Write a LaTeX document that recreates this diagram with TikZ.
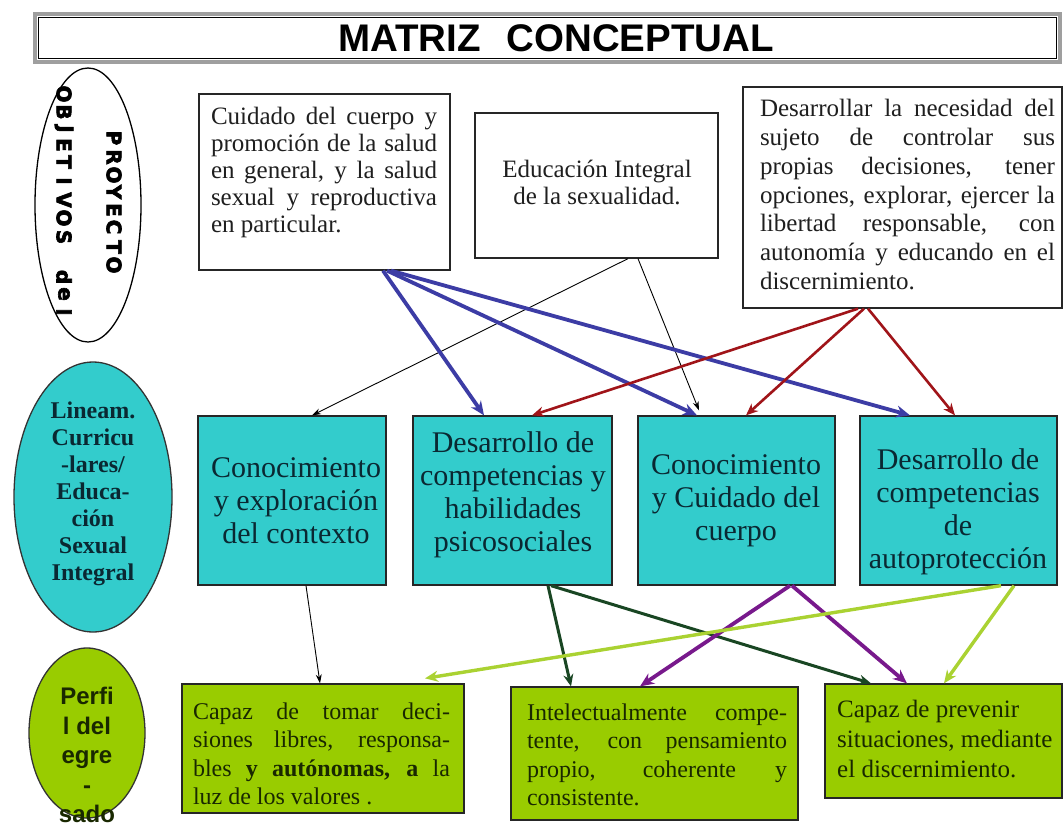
\documentclass[tikz,border=0pt]{standalone}
\usepackage{fontspec}
\setmainfont{Liberation Serif}
\newfontfamily\titlefont{Liberation Sans}
\newfontfamily\heavyfont{DejaVu Sans Bold}[FakeBold=3]
\usetikzlibrary{arrows.meta,shapes.geometric,calc}
\definecolor{cyanf}{RGB}{51,204,204}
\definecolor{greenf}{RGB}{153,204,0}
\definecolor{cyantext}{RGB}{10,40,50}
\definecolor{greentext}{RGB}{25,40,0}
\definecolor{arrowblue}{RGB}{60,60,165}
\definecolor{arrowred}{RGB}{160,20,25}
\definecolor{arrowdkgreen}{RGB}{25,70,35}
\definecolor{arrowpurple}{RGB}{120,25,140}
\definecolor{arrowlime}{RGB}{170,210,50}
\newcommand\justln[2]{\makebox[#1][s]{#2}}
\newcommand\leftln[2]{\makebox[#1][l]{#2}}
\begin{document}
\begin{tikzpicture}[x=1pt,y=-1pt,
  box/.style={draw=black!85, line width=1.3pt, inner sep=0pt},
  whitebox/.style={box, fill=white},
  cyanbox/.style={box, fill=cyanf},
  greenbox/.style={box, fill=greenf},
  toptext/.style={inner sep=0pt, align=left, text=black!88, font=\fontsize{25}{27}\selectfont},
  cyantxt/.style={inner sep=0pt, align=center, text=cyantext, font=\fontsize{30}{33}\selectfont},
  greentxt/.style={inner sep=0pt, align=left, text=greentext, font=\fontsize{24}{28.5}\selectfont},
  heavyletter/.style={inner sep=0pt, rotate=-90, font=\heavyfont\fontsize{20}{20}\selectfont},
  thinarrow/.style={draw=black, line width=0.9pt, -{Stealth[length=9pt,width=6pt]}},
  bluearrow/.style={draw=arrowblue, line width=3.8pt, -{Stealth[length=14pt,width=12pt]}},
  redarrow/.style={draw=arrowred, line width=2.6pt, -{Stealth[length=12pt,width=10pt]}},
  dkgreenarrow/.style={draw=arrowdkgreen, line width=3pt, -{Stealth[length=12pt,width=10pt]}},
  purplearrow/.style={draw=arrowpurple, line width=3.8pt, -{Stealth[length=14pt,width=12pt]}},
  limearrow/.style={draw=arrowlime, line width=3.4pt, -{Stealth[length=13pt,width=11pt]}}
]
\useasboundingbox (0,0) rectangle (1064,827);
\fill[white] (0,0) rectangle (1064,827);

% title
\node[draw=gray!75, line width=4pt, minimum width=1025pt, minimum height=48pt, inner sep=0pt] (titlebox) at (547.5,38) {};
\node[draw=black, line width=1pt, minimum width=1018pt, minimum height=41pt, inner sep=0pt] (titleinner) at (547.5,38) {};
\node[inner sep=0pt, font=\titlefont\bfseries\fontsize{38.5}{40}\selectfont] (title) at (556,38) {MATRIZ\hspace{26pt}CONCEPTUAL};

% left ellipses
\node[ellipse, draw=black, line width=1.3pt, fill=white, minimum width=106pt, minimum height=274pt, inner sep=0pt] (objetivos) at (88,205) {};
\foreach \ch/\yy in {O/94, B/112, J/129, E/145, T/162, I/181, V/200, O/218, S/237, d/277, e/294, l/312}
  \node[heavyletter] (obj\yy) at (64,\yy) {\ch};
\foreach \ch/\yy in {P/138, R/157, O/175, Y/192, E/210, C/227, T/247, O/265}
  \node[heavyletter] (proy\yy) at (114,\yy) {\ch};

\node[ellipse, draw=black!80, line width=1.3pt, fill=cyanf, minimum width=158pt, minimum height=270pt, inner sep=0pt] (lineam) at (93,497) {};
\node[inner sep=0pt, align=center, text=cyantext, font=\bfseries\fontsize{24}{27}\selectfont] (lineamtext) at (93,494) {Lineam.\\Curricu\\-lares/\\Educa-\\ción\\Sexual\\Integral};

\node[ellipse, draw=black!80, line width=1.3pt, fill=greenf, minimum width=116pt, minimum height=170pt, inner sep=0pt] (perfil) at (87,733) {};
\node[inner sep=0pt, align=center, text=greentext, font=\titlefont\bfseries\fontsize{24}{29.5}\selectfont] (perfiltext) at (87,755) {Perfi\\l del\\egre\\-\\sado};

% top boxes
\node[whitebox, minimum width=251pt, minimum height=176pt] (A) at (324.5,182) {};
\node[toptext] (Atext) at (324,172.5) {\justln{226pt}{Cuidado del cuerpo y}\\\justln{226pt}{promoción de la salud}\\\justln{226pt}{en general, y la salud}\\\justln{226pt}{sexual y reproductiva}\\\leftln{226pt}{en particular.}};

\node[whitebox, minimum width=243pt, minimum height=145pt] (B) at (596.5,185.5) {};
\node[toptext, align=center] (Btext) at (597,182.5) {Educación Integral\\de la sexualidad.};

\node[whitebox, minimum width=319pt, minimum height=221pt] (C) at (902.5,197.5) {};
\node[toptext, font=\fontsize{25}{28.7}\selectfont] (Ctext) at (907.5,194.5) {\justln{295pt}{Desarrollar la necesidad del}\\\justln{295pt}{sujeto de controlar sus}\\\justln{295pt}{propias decisiones, tener}\\\justln{295pt}{opciones, explorar, ejercer la}\\\justln{295pt}{libertad responsable, con}\\\justln{295pt}{autonomía y educando en el}\\\leftln{295pt}{discernimiento.}};

% middle cyan boxes
\node[cyanbox, minimum width=188pt, minimum height=169pt] (M1) at (292,500.5) {};
\node[cyantxt] (M1text) at (296,500.5) {Conocimiento\\y exploración\\del contexto};
\node[cyanbox, minimum width=199pt, minimum height=169pt] (M2) at (512.5,500.5) {};
\node[cyantxt] (M2text) at (513,494.5) {Desarrollo de\\competencias y\\habilidades\\psicosociales};
\node[cyanbox, minimum width=197pt, minimum height=169pt] (M3) at (736.5,500.5) {};
\node[cyantxt] (M3text) at (736,501) {Conocimiento\\y Cuidado del\\cuerpo};
\node[cyanbox, minimum width=197pt, minimum height=169pt] (M4) at (958.5,500.5) {};
\node[cyantxt] (M4text) at (958,512) {Desarrollo de\\competencias\\de\\autoprotección};

% bottom green boxes
\node[greenbox, minimum width=282pt, minimum height=129pt] (G1) at (323,748.5) {};
\node[greentxt] (G1text) at (321.5,754) {\justln{257pt}{Capaz de tomar deci-}\\\justln{257pt}{siones libres, responsa-}\\\justln{257pt}{bles \textbf{y autónomas, a} la}\\\leftln{257pt}{luz de los valores .}};
\node[greenbox, minimum width=287pt, minimum height=133pt] (G2) at (654.5,753.5) {};
\node[greentxt] (G2text) at (657,755) {\justln{260pt}{Intelectualmente compe-}\\\justln{260pt}{tente, con pensamiento}\\\justln{260pt}{propio, coherente y}\\\leftln{260pt}{consistente.}};
\node[greenbox, minimum width=237pt, minimum height=114pt] (G3) at (943.5,741) {};
\node[greentxt, anchor=west, font=\fontsize{25}{30}\selectfont] (G3text) at (837,738.5) {Capaz de prevenir\\situaciones, mediante\\el discernimiento.};

% connectors
\draw[thinarrow] ([xshift=31.5pt]B.south) -- ([xshift=20pt]M1.north);
\draw[thinarrow] ([xshift=41.5pt]B.south) -- ([xshift=-37.5pt,yshift=5pt]M3.north);
\draw[bluearrow] ([xshift=58.5pt]A.south) -- ([xshift=-28.5pt]M2.north);
\draw[bluearrow] ([xshift=62.5pt]A.south) -- ([xshift=-39.5pt]M3.north);
\draw[bluearrow] ([xshift=66.5pt]A.south) -- ([xshift=-48.5pt]M4.north);
\draw[redarrow] ([xshift=-44.5pt]C.south) -- ([xshift=19.5pt]M2.north);
\draw[redarrow] ([xshift=-38.5pt]C.south) -- ([xshift=9.5pt]M3.north);
\draw[redarrow] ([xshift=-34.5pt]C.south) -- ([xshift=-3.5pt]M4.north);
\draw[thinarrow] ([xshift=14pt]M1.south) -- ([xshift=-3pt]G1.north);
\draw[dkgreenarrow] ([xshift=35.5pt]M2.south) -- ([xshift=-83.5pt]G2.north);
\draw[dkgreenarrow] ([xshift=38.5pt]M2.south) -- ([xshift=-72.5pt]G3.north);
\draw[purplearrow] ([xshift=53.5pt]M3.south) -- ([xshift=-14.5pt]G2.north);
\draw[purplearrow] ([xshift=55.5pt]M3.south) -- ([xshift=-36.5pt]G3.north);
\draw[limearrow] ([xshift=42.5pt]M4.south) -- ([xshift=102pt,yshift=5pt]G1.north);
\draw[limearrow] ([xshift=55.5pt]M4.south) -- ([xshift=0.5pt]G3.north);
\end{tikzpicture}
\end{document}
